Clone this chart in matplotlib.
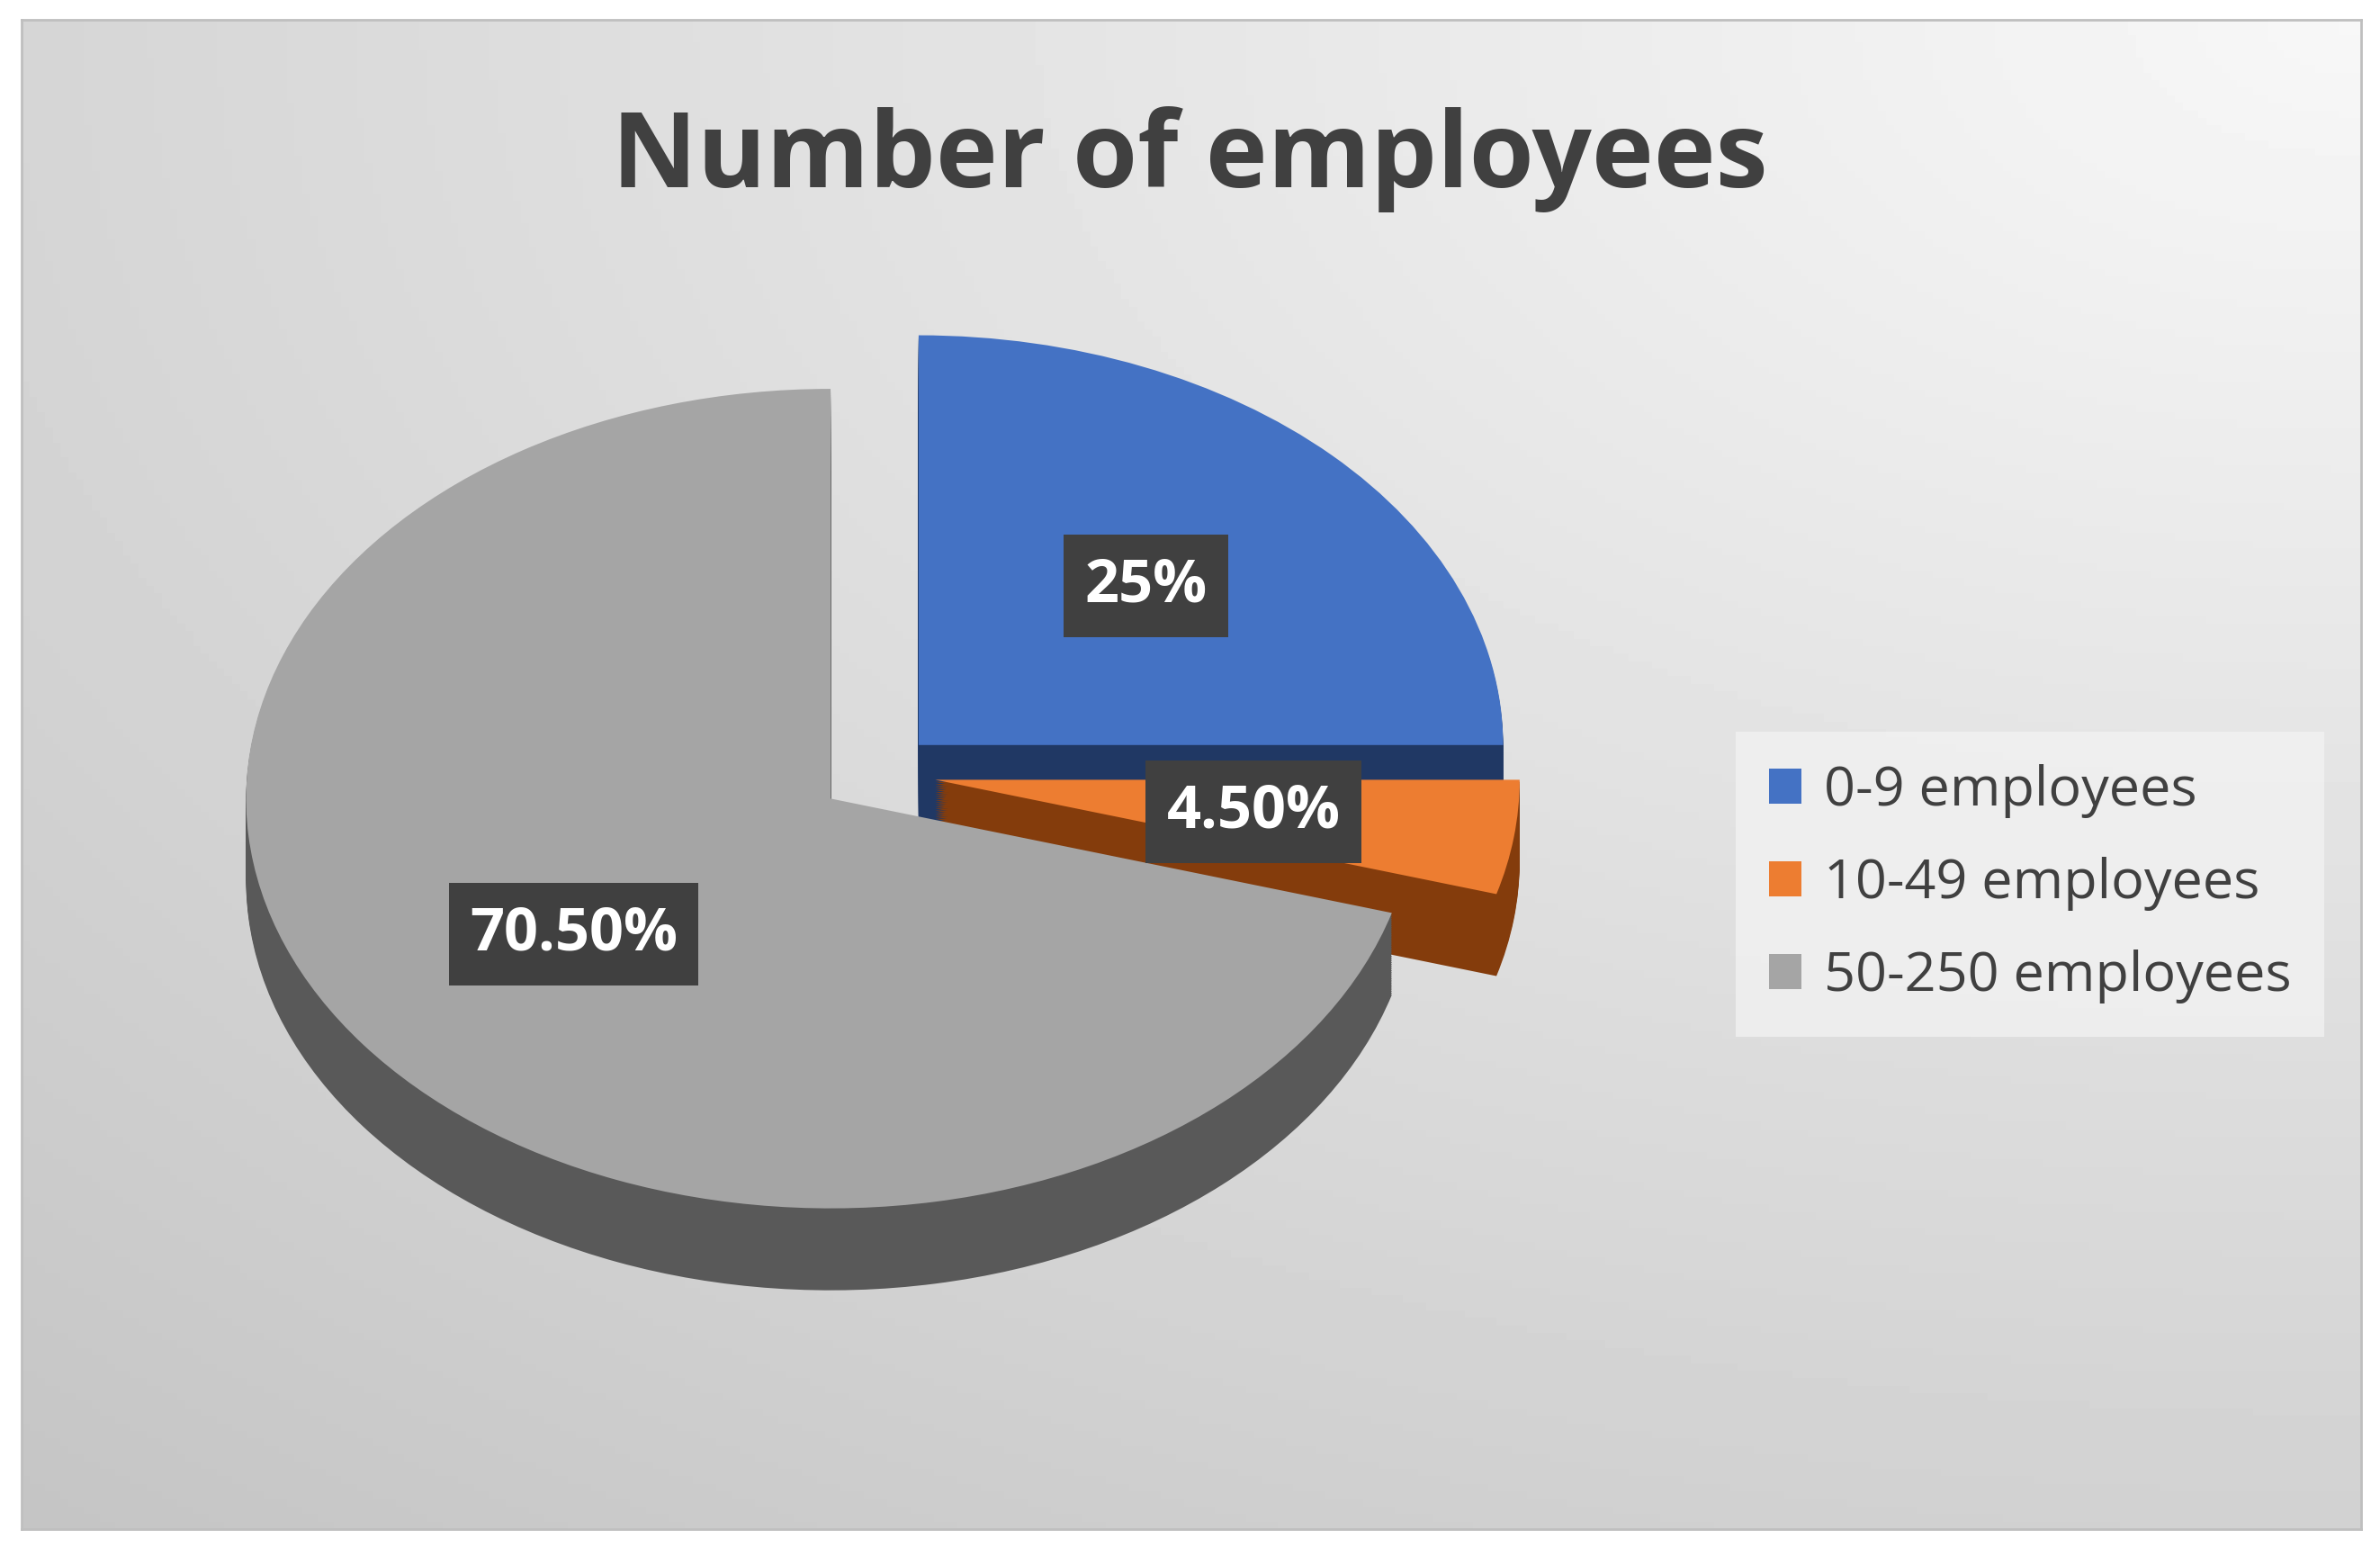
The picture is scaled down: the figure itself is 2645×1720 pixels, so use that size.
import numpy as np
import matplotlib.pyplot as plt

categories = ["0-9 employees", "10-49 employees", "50-250 employees"]
shares = [25.0, 4.5, 70.5]
pct_labels = ["25%", "4.50%", "70.50%"]
top_colors = ["#4472c4", "#ed7d31", "#a5a5a5"]
side_colors = ["#203864", "#843c0c", "#595959"]

fig = plt.figure(figsize=(26.45, 17.2), dpi=100)
fig.patch.set_facecolor("white")

# gradient background, lighter toward the top right
bg = fig.add_axes([0.009, 0.012, 0.983, 0.975])
yy, xx = np.mgrid[0:1:200j, 0:1:300j]
dist = np.sqrt((1 - xx) ** 2 * 0.8 + (yy) ** 2)
bg.imshow(0.97 - 0.2 * dist / dist.max(), cmap="gray", vmin=0, vmax=1,
          extent=[0, 1, 0, 1], aspect="auto", origin="upper")
bg.set_xticks([]); bg.set_yticks([])
for s in bg.spines.values():
    s.set_color("#bfbfbf"); s.set_linewidth(2)

ax = fig.add_axes([0, 0, 1, 1])
ax.set_facecolor("none")
ax.axis("off")

explode = [0.1, 0.1, 0.1]
depth = 0.2
for k in np.linspace(depth, 0.005, 40):
    ax.pie(shares, colors=side_colors, startangle=90, counterclock=False,
           explode=explode, center=(0, -k), radius=1,
           wedgeprops=dict(linewidth=0))
wedges, _, autotexts = ax.pie(shares, colors=top_colors, startangle=90, counterclock=False,
                              explode=explode, radius=1, autopct="%1.1f%%", pctdistance=0.55,
                              wedgeprops=dict(linewidth=0))
for t, lab in zip(autotexts, pct_labels):
    t.set_text(lab)
    t.set_color("white")
    t.set_fontsize(48)
    t.set_fontweight("bold")
    t.set_family("Open Sans")
    t.set_bbox(dict(boxstyle="square,pad=0.35", facecolor="#404040", edgecolor="none"))

ax.set_aspect("auto")
ax.set_xlim(-1.501, 2.571)
ax.set_ylim(-1.889, 1.889)

fig.text(0.5, 0.897, "Number of employees", ha="center", va="center",
         fontsize=84, fontweight="bold", color="#404040", family="Open Sans")

leg = fig.legend(wedges, categories, loc="center", bbox_to_anchor=(0.853, 0.429),
                 frameon=True, facecolor="#f2f2f2", edgecolor="none",
                 handlelength=0.6, handleheight=0.6, handletextpad=0.4,
                 labelspacing=0.7, borderpad=0.6, fancybox=False,
                 prop=dict(family="Open Sans", size=44))
for t in leg.get_texts():
    t.set_color("#404040")

fig.savefig("out.png", dpi=100)
